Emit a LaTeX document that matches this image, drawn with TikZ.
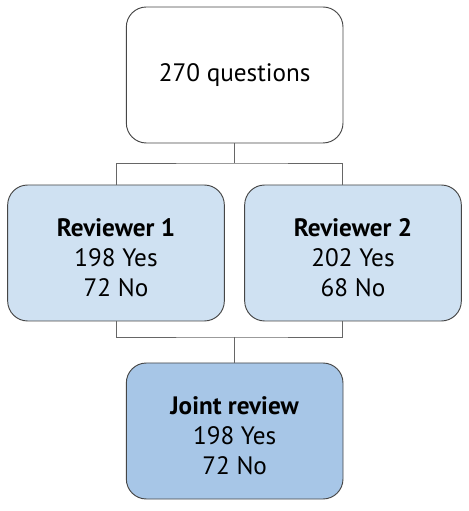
\documentclass[tikz,border=0pt]{standalone}
\usepackage{fontspec}
\setmainfont{PT Sans}
\usepackage{xcolor}
\definecolor{revblue}{RGB}{207,225,242}
\definecolor{jointblue}{RGB}{167,198,231}
\definecolor{edgegray}{RGB}{70,70,70}
\newcommand{\boxhead}[1]{\rule{0pt}{0.83cm}\textbf{#1}}

\begin{document}
\begin{tikzpicture}[
	box/.style = {draw = edgegray, line width = 0.8pt, rounded corners = 0.6cm,
		minimum width = 6.5cm, minimum height = 4.08cm, align = center,
		font = \fontsize{21.5}{25.6}\selectfont},
	link/.style = {draw = gray!80!black, line width = 0.8pt}]
	\useasboundingbox (0,0) rectangle (14.07,15.33);
	\node [box, fill = white] (total) at (7.04,13.08) {270 questions};
	\node [box, fill = revblue] (rev1) at (3.48,7.74) {\boxhead{Reviewer 1}\\198 Yes\\72 No};
	\node [box, fill = revblue] (rev2) at (10.59,7.74) {\boxhead{Reviewer 2}\\202 Yes\\68 No};
	\node [box, fill = jointblue] (joint) at (7.04,2.40) {\boxhead{Joint review}\\198 Yes\\72 No};
	% split and merge points
	\coordinate (split) at (7.04,10.44);
	\coordinate (merge) at (7.04,5.22);
	\coordinate (r2in) at (10.26,9.78);
	\coordinate (r2out) at (10.26,5.70);
	\draw [link] (total.south) -- (split);
	\draw [link] (rev1.north) |- (split) -| (r2in);
	\draw [link] (rev1.south) |- (merge) -| (r2out);
	\draw [link] (merge) -- (joint.north);
\end{tikzpicture}
\end{document}
